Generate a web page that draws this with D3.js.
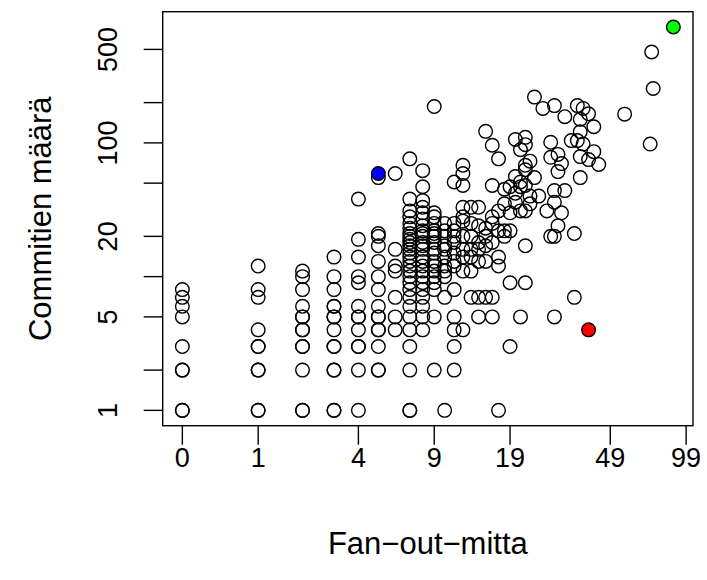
<!DOCTYPE html>
<meta charset="utf-8">
<script src="https://d3js.org/d3.v7.min.js"></script>
<style>
  body { margin: 0; background: #fff; }
  text { font-family: "Liberation Sans", Arial, sans-serif; fill: #000; }
</style>
<div id="chart"></div>
<script>
// fan-out values (one entry per column of points)
var fanOutLevels = [0, 1, 2, 3, 4, 5, 6, 7, 8, 9, 10, 11, 12, 13, 14, 15, 16, 17, 18, 19,
  20, 21, 22, 23, 24, 25, 26, 27, 28, 29, 30, 31, 32, 34, 35, 36, 37, 38, 40, 42, 44, 56, 71, 72, 73];
var commitsByLevel = [
  [8, 7, 6, 5, 3, 2, 2, 1, 1],
  [12, 8, 7, 4, 3, 3, 2, 2, 1, 1],
  [11, 10, 8, 6, 5, 5, 4, 4, 3, 3, 2, 1, 1],
  [14, 10, 8, 6, 6, 5, 5, 4, 3, 3, 2, 2, 1, 1],
  [38, 19, 14, 10, 9, 6, 5, 5, 4, 3, 3, 2, 1],
  [55, 21, 20, 17, 13, 10, 8, 6, 5, 5, 4, 4, 3, 2, 2],
  [59, 16, 12, 11, 7, 5, 4],
  [76, 38, 31, 28, 25, 23, 21, 20, 19, 18, 17, 16, 15, 14, 13, 12, 11, 10, 9, 8, 7, 6, 5, 4, 3, 2, 1, 1],
  [62, 47, 37, 33, 30, 27, 24, 22, 21, 20, 18, 17, 16, 14, 13, 12, 11, 10, 9, 8, 7, 6, 5, 4],
  [187, 30, 28, 25, 22, 21, 20, 18, 16, 15, 13, 12, 11, 10, 9, 8, 5, 2],
  [25, 22, 20, 17, 16, 14, 12, 11, 10, 7, 1],
  [51, 25, 22, 20, 18, 15, 13, 12, 8, 5, 4, 3, 2],
  [68, 59, 48, 33, 28, 26, 20, 16, 14, 11, 4],
  [33, 25, 20, 16, 14, 11, 7],
  [33, 24, 18, 16, 13, 7, 5],
  [122, 23, 20, 17, 13, 7],
  [96, 48, 28, 25, 18, 7, 5],
  [76, 31, 22, 14, 12, 1],
  [45, 35, 22, 20],
  [47, 30, 22, 9, 3],
  [106, 56, 42, 36],
  [89, 51, 47, 31, 5],
  [110, 97, 68, 63, 48, 31, 17, 9],
  [73, 40, 35],
  [220, 55],
  [40],
  [181],
  [31],
  [101, 78, 20],
  [190, 44, 36, 20, 5],
  [82, 61, 24],
  [70, 30],
  [157, 44],
  [104],
  [21, 7],
  [190, 104],
  [150, 121, 79, 55],
  [181, 98],
  [165, 75],
  [132, 86],
  [69],
  [164],
  [98],
  [478],
  [255]
];
// highlighted points
var hlFanOut = [5, 40, 88];
var hlCommits = [59, 4, 735];
var hlColors = ["#0000ff", "#ff0000", "#00ff00"];

// axis ticks
var xTicks = [0, 1, 4, 9, 19, 49, 99];
var yTicks = [1, 2, 5, 10, 20, 50, 100, 200, 500];
var yLabels = [1, 5, 20, 100, 500];

var W = 707, H = 580;
var margin = {top: 11.7, right: 14, bottom: 154.3, left: 162.7};

var points = [];
fanOutLevels.forEach(function(f, i) {
  commitsByLevel[i].forEach(function(c) { points.push({fo: f, c: c}); });
});
var hl = hlFanOut.map(function(f, i) { return {fo: f, c: hlCommits[i], col: hlColors[i]}; });
var all = points.concat(hl);

// R style 4% padding on log range
function padLog(ext) {
  var a = Math.log10(ext[0]), b = Math.log10(ext[1]), p = (b - a) * 0.04;
  return [Math.pow(10, a - p), Math.pow(10, b + p)];
}
var x = d3.scaleLog()
  .domain(padLog(d3.extent(all, function(d) { return d.fo + 1; })))
  .range([margin.left, W - margin.right]);
var y = d3.scaleLog()
  .domain(padLog(d3.extent(all, function(d) { return d.c; })))
  .range([H - margin.bottom, margin.top]);

var svg = d3.select("#chart").append("svg")
  .attr("width", W).attr("height", H);

var fs = 27;
var bottom = H - margin.bottom;

// x axis
svg.selectAll(".xt").data(xTicks).enter().append("line")
  .attr("x1", function(d) { return x(d + 1); })
  .attr("x2", function(d) { return x(d + 1); })
  .attr("y1", bottom).attr("y2", bottom + 19)
  .attr("stroke", "#000").attr("stroke-width", 1.4);
svg.selectAll(".xl").data(xTicks).enter().append("text")
  .attr("x", function(d) { return x(d + 1); })
  .attr("y", 467)
  .attr("text-anchor", "middle")
  .style("font-size", fs + "px")
  .text(function(d) { return d; });

// y axis
svg.selectAll(".yt").data(yTicks).enter().append("line")
  .attr("x1", margin.left - 19).attr("x2", margin.left)
  .attr("y1", function(d) { return y(d); })
  .attr("y2", function(d) { return y(d); })
  .attr("stroke", "#000").attr("stroke-width", 1.4);
svg.selectAll(".yl").data(yLabels).enter().append("text")
  .attr("transform", function(d) { return "translate(117," + y(d) + ")rotate(-90)"; })
  .attr("text-anchor", "middle")
  .style("font-size", fs + "px")
  .text(function(d) { return d; });

// axis titles
svg.append("text")
  .attr("x", (margin.left + W - margin.right) / 2)
  .attr("y", 554)
  .attr("text-anchor", "middle")
  .style("font-size", "31px")
  .text("Fan\u2212out\u2212mitta");
svg.append("text")
  .attr("transform", "translate(51," + (margin.top + bottom) / 2 + ")rotate(-90)")
  .attr("text-anchor", "middle")
  .style("font-size", "31px")
  .text("Commitien määrä");

// points
svg.selectAll(".pt").data(points).enter().append("circle")
  .attr("cx", function(d) { return x(d.fo + 1); })
  .attr("cy", function(d) { return y(d.c); })
  .attr("r", 6.8)
  .attr("fill", "none")
  .attr("stroke", "#000")
  .attr("stroke-width", 1.4);
svg.selectAll(".hl").data(hl).enter().append("circle")
  .attr("cx", function(d) { return x(d.fo + 1); })
  .attr("cy", function(d) { return y(d.c); })
  .attr("r", 6.8)
  .attr("fill", function(d) { return d.col; })
  .attr("stroke", "#000")
  .attr("stroke-width", 1.4);

// box
svg.append("rect")
  .attr("x", margin.left).attr("y", margin.top)
  .attr("width", W - margin.left - margin.right)
  .attr("height", bottom - margin.top)
  .attr("fill", "none").attr("stroke", "#000").attr("stroke-width", 1.4);
</script>
